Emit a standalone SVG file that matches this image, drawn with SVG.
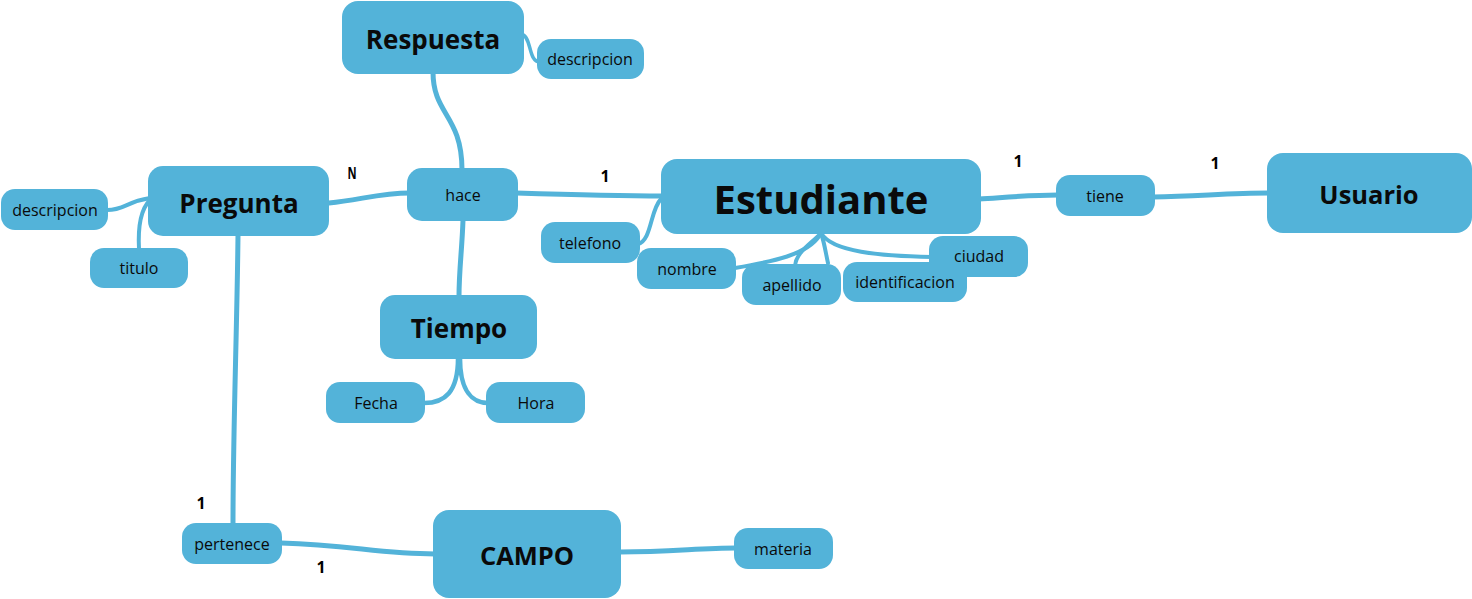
<svg xmlns="http://www.w3.org/2000/svg" width="1472" height="599" viewBox="0 0 1472 599">
<style>
.n{fill:#53b3d9}
.t{font-family:"Open Sans","Noto Sans",sans-serif;fill:#0a0a0a;text-anchor:middle;dominant-baseline:central}
.b{font-weight:bold}
.s{font-size:16px}
.c{fill:none;stroke:#53b3d9;stroke-linecap:round}
.l{font-family:"Open Sans","Noto Sans",sans-serif;font-weight:bold;font-size:16px;fill:#000;text-anchor:middle}
</style>
<rect width="1472" height="599" fill="#fff"/>
<g id="connectors">
<path class="c" stroke-width="5" d="M433,72 C433,115 462,115 462,170"/>
<path class="c" stroke-width="3.5" d="M522,34 C532,38 528,62 540,62"/>
<path class="c" stroke-width="5" d="M329,203 C360,200 380,193 410,193"/>
<path class="c" stroke-width="5" d="M516,193 C580,195 620,196 663,196"/>
<path class="c" stroke-width="5" d="M463,220 C462,250 459,270 459,297"/>
<path class="c" stroke-width="4.5" d="M458,358 C458,392 445,403 424,403"/>
<path class="c" stroke-width="4.5" d="M460,358 C460,392 473,403 488,403"/>
<path class="c" stroke-width="4" d="M150,198 C125,202 125,210 107,210"/>
<path class="c" stroke-width="4" d="M150,200 C140,210 138,230 139,249"/>
<path class="c" stroke-width="5" d="M238,235 C237,330 233,430 233,524"/>
<path class="c" stroke-width="5" d="M281,543 C350,545 380,554 435,554"/>
<path class="c" stroke-width="5" d="M620,552 C670,552 700,548 736,548"/>
<path class="c" stroke-width="4" d="M661,199 C650,210 652,240 638,244"/>
<path class="c" stroke-width="4" d="M821,233 C810,255 770,262 735,268"/>
<path class="c" stroke-width="4" d="M821,233 C810,245 796,252 795,266"/>
<path class="c" stroke-width="4" d="M821,233 C825,245 826,255 828,263"/>
<path class="c" stroke-width="4" d="M821,233 C832,252 880,256 932,257"/>
<path class="c" stroke-width="5" d="M979,199 C1010,197 1030,195 1058,195"/>
<path class="c" stroke-width="5" d="M1153,197 C1200,196 1230,193 1269,193"/>
</g>
<g id="Respuesta"><rect class="n" x="342" y="1" width="182" height="73" rx="16"/><text class="t b" x="433" y="39" font-size="26">Respuesta</text></g>
<g id="descripcion1"><rect class="n" x="537" y="39" width="107" height="40" rx="14"/><text class="t s" x="590" y="59">descripcion</text></g>
<g id="Pregunta"><rect class="n" x="148" y="166" width="181" height="70" rx="15"/><text class="t b" x="239" y="203" font-size="26">Pregunta</text></g>
<g id="descripcion2"><rect class="n" x="1" y="189" width="107" height="41" rx="14"/><text class="t s" x="55" y="210">descripcion</text></g>
<g id="titulo"><rect class="n" x="90" y="248" width="98" height="40" rx="14"/><text class="t s" x="139" y="268">titulo</text></g>
<g id="hace"><rect class="n" x="407" y="168" width="111" height="53" rx="15"/><text class="t s" x="463" y="195">hace</text></g>
<g id="Estudiante"><rect class="n" x="661" y="159" width="320" height="75" rx="16"/><text class="t b" x="821" y="198" font-size="40">Estudiante</text></g>
<g id="telefono"><rect class="n" x="541" y="222" width="99" height="41" rx="14"/><text class="t s" x="590" y="243">telefono</text></g>
<g id="nombre"><rect class="n" x="637" y="248" width="99" height="41" rx="14"/><text class="t s" x="687" y="269">nombre</text></g>
<g id="apellido"><rect class="n" x="742" y="264" width="99" height="41" rx="14"/><text class="t s" x="792" y="285">apellido</text></g>
<g id="ciudad"><rect class="n" x="929" y="236" width="99" height="41" rx="14"/><text class="t s" x="979" y="255.5">ciudad</text></g>
<g id="identificacion"><rect class="n" x="843" y="262" width="124" height="40" rx="14"/><text class="t s" x="905" y="282">identificacion</text></g>
<g id="tiene"><rect class="n" x="1056" y="175" width="99" height="41" rx="14"/><text class="t s" x="1105" y="196">tiene</text></g>
<g id="Usuario"><rect class="n" x="1267" y="153" width="205" height="80" rx="16"/><text class="t b" x="1369" y="194" font-size="25.5">Usuario</text></g>
<g id="Tiempo"><rect class="n" x="380" y="295" width="157" height="64" rx="15"/><text class="t b" x="459" y="328" font-size="26">Tiempo</text></g>
<g id="Fecha"><rect class="n" x="326" y="382" width="99" height="41" rx="14"/><text class="t s" x="376" y="403">Fecha</text></g>
<g id="Hora"><rect class="n" x="486" y="382" width="99" height="41" rx="14"/><text class="t s" x="536" y="403">Hora</text></g>
<g id="pertenece"><rect class="n" x="182" y="523" width="100" height="41" rx="14"/><text class="t s" x="232" y="544">pertenece</text></g>
<g id="CAMPO"><rect class="n" x="433" y="510" width="188" height="88" rx="16"/><text class="t b" x="527" y="555" font-size="25.5">CAMPO</text></g>
<g id="materia"><rect class="n" x="734" y="528" width="99" height="41" rx="14"/><text class="t s" x="783" y="549">materia</text></g>
<g id="labels">
<text class="l" x="352" y="179" font-size="14" font-family="'DejaVu Sans Condensed',sans-serif" transform="translate(352,0) scale(0.7,1) translate(-352,0)">N</text>
<text class="l" x="605" y="182">1</text>
<text class="l" x="1018" y="167">1</text>
<text class="l" x="1215" y="169">1</text>
<text class="l" x="201" y="509">1</text>
<text class="l" x="321" y="573">1</text>
</g>
</svg>
